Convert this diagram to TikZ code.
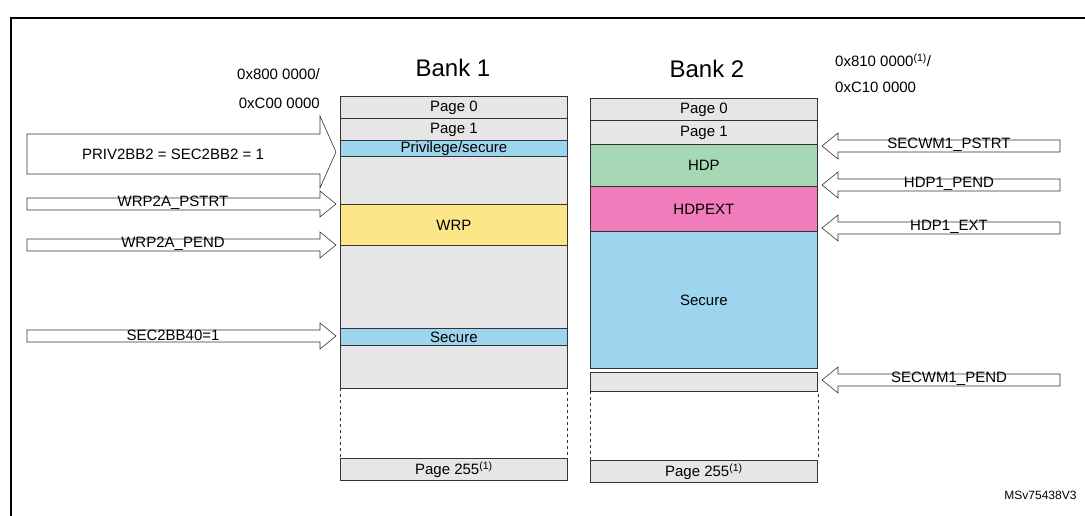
\documentclass[tikz,border=0pt]{standalone}
\usepackage{fontspec}
\setmainfont{Liberation Sans}
\definecolor{pgray}{RGB}{230,230,230}
\definecolor{pblue}{RGB}{157,212,238}
\definecolor{pyellow}{RGB}{253,230,135}
\definecolor{pgreen}{RGB}{167,216,182}
\definecolor{ppink}{RGB}{240,124,188}
\tikzset{
  blk/.style = {draw=black!80, line width=0.8pt, anchor=north west, inner sep=0pt,
                minimum width=227pt, font=\fontsize{15}{16}\selectfont},
  reg/.style = {draw=black!80, line width=0.6pt, fill=white},
  reglabel/.style = {font=\fontsize{15}{16}\selectfont, inner sep=0pt}
}
% thin register arrow pointing right: tip x, tip y, label
\newcommand{\rarrow}[4]{
  \draw[reg] (27,#2-6) -- (320,#2-6) -- (320,#2-13) -- (#1,#2) -- (320,#2+13) -- (320,#2+6) -- (27,#2+6) -- cycle;
  \node[reglabel] (#4) at (173,#2-1) {#3};
}
% thin register arrow pointing left
\newcommand{\larrow}[4]{
  \draw[reg] (1060,#2-6) -- (838,#2-6) -- (838,#2-13) -- (#1,#2) -- (838,#2+13) -- (838,#2+6) -- (1060,#2+6) -- cycle;
  \node[reglabel] (#4) at (949,#2-1) {#3};
}
\begin{document}
\begin{tikzpicture}[x=1pt, y=-1pt]
  \useasboundingbox (0,0) rectangle (1085,516);
  \draw[line width=1.5pt] (11,516) -- (11,18) -- (1090,18);

  % bank 1
  \node[font=\fontsize{24}{26}\selectfont] (b1) at (453,68) {Bank 1};
  \node[reglabel, anchor=east] (a1) at (320,74) {0x800 0000/};
  \node[reglabel, anchor=east] (a2) at (320,103) {0xC00 0000};
  \node[blk, fill=pgray, minimum height=22pt] (b1p0) at (340,96) {Page 0};
  \node[blk, fill=pgray, minimum height=22pt] (b1p1) at (340,118) {Page 1};
  \node[blk, fill=pblue, minimum height=16pt] (b1ps) at (340,140) {Privilege/secure};
  \node[blk, fill=pgray, minimum height=48pt] (b1g1) at (340,156) {};
  \node[blk, fill=pyellow, minimum height=41pt] (b1w) at (340,204) {WRP};
  \node[blk, fill=pgray, minimum height=83pt] (b1g2) at (340,245) {};
  \node[blk, fill=pblue, minimum height=17pt] (b1s) at (340,328) {Secure};
  \node[blk, fill=pgray, minimum height=43pt] (b1g3) at (340,345) {};
  \draw[dashed, black!80, line width=0.8pt] (340,388) -- (340,458) -- (567,458) -- (567,388);
  \node[blk, fill=pgray, minimum height=22pt] (b1p255) at (340,458) {Page 255\textsuperscript{(1)}};

  % bank 2
  \node[font=\fontsize{24}{26}\selectfont] (b2) at (707,69) {Bank 2};
  \node[reglabel, anchor=west] (a3) at (835,60) {0x810 0000\textsuperscript{(1)}/};
  \node[reglabel, anchor=west] (a4) at (835,87) {0xC10 0000};
  \node[blk, fill=pgray, minimum height=22pt] (b2p0) at (590,98) {Page 0};
  \node[blk, fill=pgray, minimum height=24pt] (b2p1) at (590,120) {Page 1};
  \node[blk, fill=pgreen, minimum height=42pt] (b2h) at (590,144) {HDP};
  \node[blk, fill=ppink, minimum height=45pt] (b2he) at (590,186) {HDPEXT};
  \node[blk, fill=pblue, minimum height=137pt] (b2s) at (590,231) {Secure};
  \node[blk, fill=pgray, minimum height=19pt] (b2g) at (590,372) {};
  \draw[dashed, black!80, line width=0.8pt] (590,391) -- (590,460) -- (818,460) -- (818,391);
  \node[blk, fill=pgray, minimum height=22pt] (b2p255) at (590,460) {Page 255\textsuperscript{(1)}};

  % left register arrows
  \draw[reg] (27,134) -- (320,134) -- (320,116) -- (336,152) -- (320,188) -- (320,174) -- (27,174) -- cycle;
  \node[reglabel] (priv) at (173,154) {PRIV2BB2 = SEC2BB2 = 1};
  \rarrow{336}{204}{WRP2A\_PSTRT}{wps}
  \rarrow{336}{245}{WRP2A\_PEND}{wpe}
  \rarrow{336}{336}{SEC2BB40=1}{sec}

  % right register arrows
  \larrow{822}{146}{SECWM1\_PSTRT}{sps}
  \larrow{822}{185}{HDP1\_PEND}{hpe}
  \larrow{822}{228}{HDP1\_EXT}{hex}
  \larrow{822}{380}{SECWM1\_PEND}{spe}

  \node[font=\fontsize{12}{13}\selectfont, anchor=east] (ref) at (1080,495) {MSv75438V3};
\end{tikzpicture}
\end{document}
